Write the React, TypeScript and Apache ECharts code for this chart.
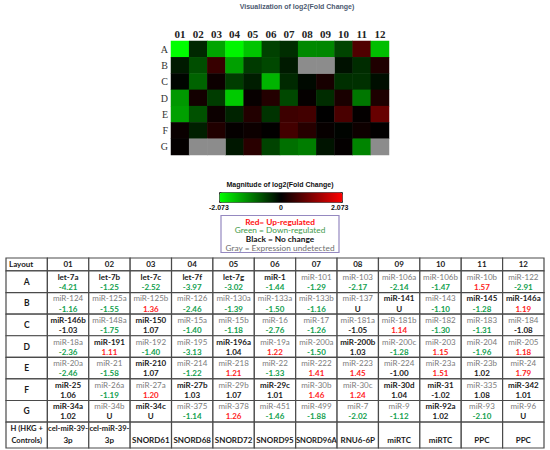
import React, { useEffect, useRef } from "react";
import * as echarts from "echarts";

const COLS = ["01", "02", "03", "04", "05", "06", "07", "08", "09", "10", "11", "12"];
const ROWS = ["A", "B", "C", "D", "E", "F", "G"];

const NAMES_A = ["let-7a", "let-7b", "let-7c", "let-7f", "let-7g", "miR-1", "miR-101", "miR-103", "miR-106a", "miR-106b", "miR-10b", "miR-122"];
const FOLD_A = [-4.21, -1.25, -2.52, -3.97, -3.02, -1.44, -1.29, -2.17, -2.14, -1.47, 1.57, -2.91];
const NAMES_B = ["miR-124", "miR-125a", "miR-125b", "miR-126", "miR-130a", "miR-133a", "miR-133b", "miR-137", "miR-141", "miR-143", "miR-145", "miR-146a"];
const FOLD_B = [-1.16, -1.55, 1.36, -2.46, -1.39, -1.5, -1.16, null, null, -1.1, -1.28, 1.19];
const NAMES_C = ["miR-146b", "miR-148a", "miR-150", "miR-15a", "miR-15b", "miR-16", "miR-17", "miR-181a", "miR-181b", "miR-182", "miR-183", "miR-184"];
const FOLD_C = [-1.03, -1.75, 1.07, -1.4, -1.18, -2.76, -1.26, -1.05, 1.14, -1.3, -1.31, -1.08];
const NAMES_D = ["miR-18a", "miR-191", "miR-192", "miR-195", "miR-196a", "miR-19a", "miR-200a", "miR-200b", "miR-200c", "miR-203", "miR-204", "miR-205"];
const FOLD_D = [-2.36, 1.11, -1.4, -3.13, 1.04, 1.22, -1.5, 1.03, -1.28, 1.15, -1.96, 1.18];
const NAMES_E = ["miR-20a", "miR-21", "miR-210", "miR-214", "miR-218", "miR-22", "miR-222", "miR-223", "miR-224", "miR-23a", "miR-23b", "miR-24"];
const FOLD_E = [-2.46, -1.58, 1.07, -1.22, 1.21, -1.33, 1.41, 1.45, -1.0, 1.51, 1.02, 1.79];
const NAMES_F = ["miR-25", "miR-26a", "miR-27a", "miR-27b", "miR-29b", "miR-29c", "miR-30b", "miR-30c", "miR-30d", "miR-31", "miR-335", "miR-342"];
const FOLD_F = [1.06, -1.19, 1.2, 1.03, 1.07, 1.01, 1.46, 1.24, 1.04, -1.02, 1.08, 1.01];
const NAMES_G = ["miR-34a", "miR-34b", "miR-34c", "miR-375", "miR-378", "miR-451", "miR-499", "miR-7", "miR-9", "miR-92a", "miR-93", "miR-96"];
const FOLD_G = [1.02, null, null, -1.14, 1.26, -1.46, -1.88, -2.02, -1.12, 1.02, -2.1, null];
const CONTROLS_H = ["cel-miR-39-\n3p", "cel-miR-39-\n3p", "SNORD61", "SNORD68", "SNORD72", "SNORD95", "SNORD96A", "RNU6-6P", "miRTC", "miRTC", "PPC", "PPC"];
const BOLD_NAMES = ["let-7a", "let-7b", "let-7c", "let-7f", "let-7g", "miR-1", "miR-141", "miR-145", "miR-146a", "miR-146b", "miR-150", "miR-191", "miR-196a", "miR-200b", "miR-210", "miR-25", "miR-27b", "miR-29c", "miR-30d", "miR-31", "miR-342", "miR-34a", "miR-34c", "miR-92a"];
const SCALE_LIMIT = 2.073;
const LEGEND_LINES = ["Red= Up-regulated", "Green = Down-regulated", "Black = No change", "Gray = Expression undetected"];

const NAMES = [NAMES_A, NAMES_B, NAMES_C, NAMES_D, NAMES_E, NAMES_F, NAMES_G];
const FOLDS = [FOLD_A, FOLD_B, FOLD_C, FOLD_D, FOLD_E, FOLD_F, FOLD_G];

const heatData: any[] = [];
const undetData: any[] = [];
FOLDS.forEach((row, r) => {
  row.forEach((fc, c) => {
    if (fc === null) {
      undetData.push([c, r, 0]);
    } else {
      let v = Math.sign(fc) * Math.log2(Math.abs(fc));
      v = Math.max(-SCALE_LIMIT, Math.min(SCALE_LIMIT, v));
      heatData.push([c, r, v]);
    }
  });
});

// table layout (row heights in relative units)
const ROW_UNITS = [0.6, 1, 1, 1, 1, 1, 1, 1, 1.2];
const rowTops: number[] = [];
{
  let acc = 0;
  ROW_UNITS.forEach((u) => {
    rowTops.push(acc);
    acc += u;
  });
}
const TOTAL_UNITS = ROW_UNITS.reduce((a, b) => a + b, 0);

const GREEN_TXT = "#11a04e";
const RED_TXT = "#ff1c1c";
const DARK = "#1a1a1a";
const GREY_TXT = "#7b7b7b";
const TABLE_FONT = 8;

type Line = { text: string; color: string; weight: string; pos: number; align?: string; size?: number };
type Cell = { lines: Line[] };
const CELLS: Cell[] = [];
const cellData: any[] = [];

function addCell(col: number, row: number, lines: Line[]) {
  CELLS.push({ lines });
  cellData.push([col, rowTops[row], col + 1, rowTops[row] + ROW_UNITS[row]]);
}

addCell(0, 0, [{ text: "Layout", color: DARK, weight: "bold", pos: 0.5, align: "left" }]);
COLS.forEach((c, i) => addCell(i + 1, 0, [{ text: c, color: DARK, weight: "bold", pos: 0.5 }]));
ROWS.forEach((rl, r) => {
  addCell(0, r + 1, [{ text: rl, color: DARK, weight: "bold", pos: 0.5, size: 8.5 }]);
  NAMES[r].forEach((name, c) => {
    const fc = FOLDS[r][c];
    const bold = BOLD_NAMES.indexOf(name) >= 0;
    let vText = "U";
    let vColor = DARK;
    if (fc !== null) {
      vText = fc.toFixed(2);
      if (fc >= 1.095) vColor = RED_TXT;
      else if (fc <= -1.095) vColor = GREEN_TXT;
    }
    addCell(c + 1, r + 1, [
      { text: name, color: bold ? DARK : GREY_TXT, weight: bold ? "bold" : "normal", pos: 0.27 },
      { text: vText, color: vColor, weight: "bold", pos: 0.74 },
    ]);
  });
});
addCell(0, 8, [
  { text: "H (HKG +", color: DARK, weight: "bold", pos: 0.22, size: 7.6 },
  { text: "Controls)", color: DARK, weight: "bold", pos: 0.7, size: 7.6 },
]);
CONTROLS_H.forEach((t, c) => {
  const parts = t.split("\n");
  if (parts.length > 1) {
    addCell(c + 1, 8, [
      { text: parts[0], color: DARK, weight: "bold", pos: 0.22, size: 7.6 },
      { text: parts[1], color: DARK, weight: "bold", pos: 0.7 },
    ]);
  } else {
    addCell(c + 1, 8, [{ text: t, color: DARK, weight: "bold", pos: 0.7, size: t.length > 7 ? 7.6 : TABLE_FONT }]);
  }
});

const LEGEND_STYLES = [
  { color: "#ff1010", weight: "bold" },
  { color: "#3f9a4a", weight: "normal" },
  { color: "#111111", weight: "bold" },
  { color: "#6e6e6e", weight: "normal" },
];

export default function App() {
  const ref = useRef<HTMLDivElement>(null);
  useEffect(() => {
    if (!ref.current) return;
    const chart = echarts.init(ref.current, undefined, { renderer: "svg" });
    const option: any = {
      animation: false,
      backgroundColor: "#ffffff",
      title: [
        {
          text: "Visualization of log2(Fold Change)",
          left: 297,
          top: 3,
          padding: 0,
          textAlign: "center",
          textStyle: { fontSize: 7, fontWeight: "bold", color: "#4c5a70", fontFamily: "Liberation Sans" },
        },
        {
          text: "Magnitude of log2(Fold Change)",
          left: 280,
          top: 181,
          padding: 0,
          textAlign: "center",
          textStyle: { fontSize: 7, fontWeight: "bold", color: "#111", fontFamily: "Liberation Sans" },
        },
      ],
      grid: [
        { left: 171, top: 41, width: 218, height: 114 },
        { left: 6, top: 258, width: 538, height: 190 },
      ],
      xAxis: [
        {
          type: "category",
          data: COLS,
          position: "top",
          gridIndex: 0,
          axisLine: { show: false },
          axisTick: { show: false },
          splitLine: { show: false },
          axisLabel: { margin: 2, fontSize: 11, fontWeight: "bold", color: "#222", fontFamily: "Liberation Serif" },
        },
        { type: "value", gridIndex: 1, min: 0, max: 13, show: false },
      ],
      yAxis: [
        {
          type: "category",
          data: ROWS,
          inverse: true,
          gridIndex: 0,
          axisLine: { show: false },
          axisTick: { show: false },
          splitLine: { show: false },
          axisLabel: { margin: 3, fontSize: 10, color: "#333", fontFamily: "Liberation Serif" },
        },
        { type: "value", gridIndex: 1, min: 0, max: TOTAL_UNITS, inverse: true, show: false },
      ],
      visualMap: [
        {
          type: "continuous",
          min: -SCALE_LIMIT,
          max: SCALE_LIMIT,
          seriesIndex: 0,
          orient: "horizontal",
          left: 219,
          top: 192,
          itemWidth: 10,
          itemHeight: 123,
          calculable: false,
          hoverLink: false,
          padding: 0,
          borderColor: "#333",
          borderWidth: 1,
          inRange: { color: ["#00ff00", "#000000", "#ff0000"] },
        },
        {
          type: "continuous",
          show: false,
          min: -1,
          max: 1,
          seriesIndex: 1,
          inRange: { color: ["#8c8c8c", "#8c8c8c"] },
        },
      ],
      graphic: [
        { type: "text", left: 209, top: 204, style: { text: "-2.073", fontSize: 7, fontWeight: "bold", fill: "#111", fontFamily: "Liberation Sans" } },
        { type: "text", left: 279, top: 204, style: { text: "0", fontSize: 7, fontWeight: "bold", fill: "#111", fontFamily: "Liberation Sans" } },
        { type: "text", left: 331, top: 204, style: { text: "2.073", fontSize: 7, fontWeight: "bold", fill: "#111", fontFamily: "Liberation Sans" } },
        {
          type: "rect",
          shape: { x: 221, y: 215.5, width: 118, height: 37 },
          style: { fill: "#fff", stroke: "#9589c0", lineWidth: 1.2 },
        },
        ...LEGEND_LINES.map((t, i) => ({
          type: "text",
          x: 280,
          y: 221.5 + i * 8.8,
          style: {
            text: t,
            fontSize: 8.3,
            fontFamily: "Lato",
            fontWeight: LEGEND_STYLES[i].weight,
            fill: LEGEND_STYLES[i].color,
            align: "center",
            verticalAlign: "middle",
          },
        })),
      ],
      series: [
        {
          type: "heatmap",
          xAxisIndex: 0,
          yAxisIndex: 0,
          data: heatData,
          itemStyle: { borderWidth: 0 },
          emphasis: { disabled: true },
        },
        {
          type: "heatmap",
          xAxisIndex: 0,
          yAxisIndex: 0,
          data: undetData,
          itemStyle: { borderWidth: 0 },
          emphasis: { disabled: true },
        },
        {
          type: "custom",
          coordinateSystem: "cartesian2d",
          xAxisIndex: 1,
          yAxisIndex: 1,
          clip: false,
          data: cellData,
          renderItem: (params: any, api: any) => {
            const p0 = api.coord([api.value(0), api.value(1)]);
            const p1 = api.coord([api.value(2), api.value(3)]);
            const x = Math.min(p0[0], p1[0]);
            const y = Math.min(p0[1], p1[1]);
            const w = Math.abs(p1[0] - p0[0]);
            const h = Math.abs(p1[1] - p0[1]);
            const cell = CELLS[params.dataIndex];
            const children: any[] = [
              {
                type: "rect",
                shape: { x, y, width: w, height: h },
                style: { fill: "#fff", stroke: "#4a4a4a", lineWidth: 1.2 },
              },
            ];
            cell.lines.forEach((ln) => {
              children.push({
                type: "text",
                style: {
                  text: ln.text,
                  x: ln.align === "left" ? x + 3 : x + w / 2,
                  y: y + h * ln.pos,
                  fill: ln.color,
                  fontSize: ln.size || TABLE_FONT,
                  fontWeight: ln.weight,
                  fontFamily: "Lato",
                  align: ln.align || "center",
                  verticalAlign: "middle",
                },
              });
            });
            return { type: "group", children };
          },
        },
      ],
    };
    chart.setOption(option);
    return () => chart.dispose();
  }, []);
  return (
    <div
      ref={ref}
      style={{ position: "fixed", left: 0, top: 0, width: 550, height: 450, background: "#fff" }}
    />
  );
}
